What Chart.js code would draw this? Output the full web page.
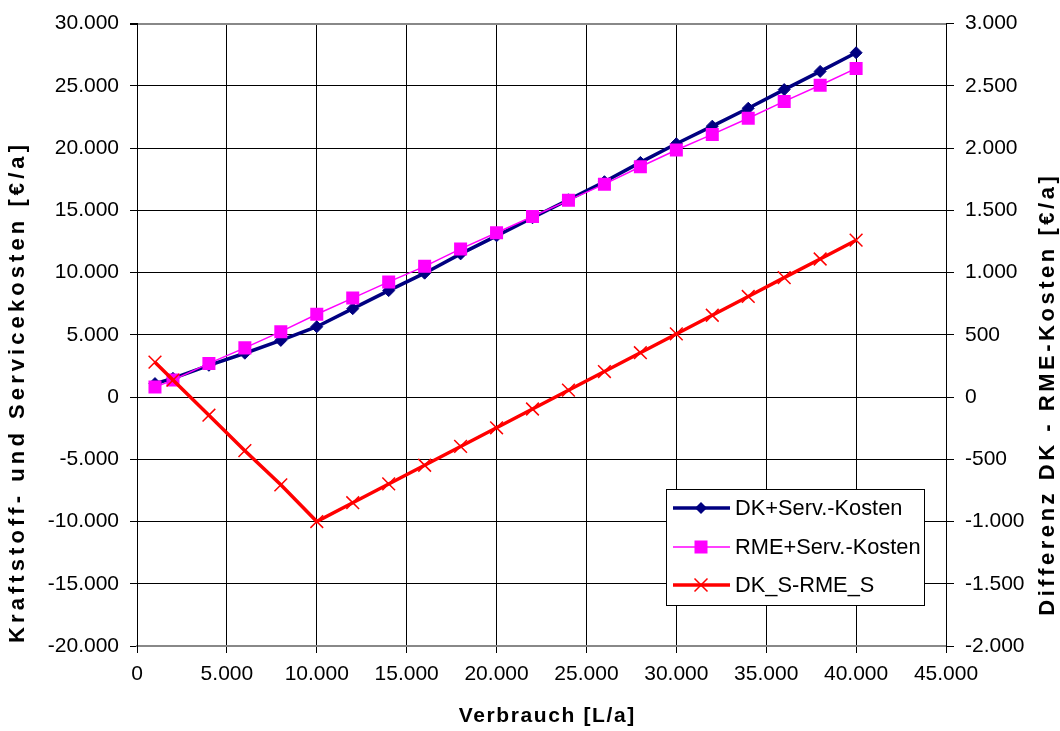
<!DOCTYPE html>
<html>
<head>
<meta charset="utf-8">
<script src="https://cdn.jsdelivr.net/npm/chart.js@4/dist/chart.umd.min.js"></script>
<style>
  html, body { margin: 0; padding: 0; background: #fff; }
  #wrap { width: 1060px; height: 731px; }
</style>
</head>
<body>
<div id="wrap"><canvas id="chart" width="1060" height="731"></canvas></div>
<script>
// Verbrauch in L/a (x values)
const verbrauch = [1000, 2000, 4000, 6000, 8000, 10000, 12000, 14000, 16000, 18000, 20000,
  22000, 24000, 26000, 28000, 30000, 32000, 34000, 36000, 38000, 40000];
// Kraftstoff- und Servicekosten, left axis (€/a)
const dkServ = [1080, 1500, 2550, 3520, 4550, 5650, 7100, 8550, 9950, 11500, 12950,
  14400, 15850, 17300, 18850, 20350, 21760, 23200, 24700, 26160, 27660];
const rmeServ = [800, 1360, 2700, 3950, 5250, 6650, 7950, 9250, 10500, 11900, 13200,
  14500, 15800, 17100, 18500, 19850, 21100, 22400, 23750, 25050, 26400];
// Differenz DK - RME, right axis (€/a)
const diffKosten = [280, 136, -146, -431, -705, -1000, -849, -698, -548, -397, -247,
  -96, 55, 205, 356, 507, 657, 808, 959, 1109, 1260];

const seriesNames = ["DK+Serv.-Kosten", "RME+Serv.-Kosten", "DK_S-RME_S"];
const xTitle = "Verbrauch [L/a]";
const yTitle = "Kraftstoff- und Servicekosten [€/a]";
const y2Title = "Differenz DK - RME-Kosten [€/a]";

const FONT = "'Liberation Sans', Arial, sans-serif";

function fmt(v) {
  const s = Math.abs(Math.round(v)).toString().replace(/\B(?=(\d{3})+(?!\d))/g, ".");
  return (v < 0 ? "-" : "") + s;
}

function toPoints(ys) {
  return verbrauch.map((x, i) => ({ x: x, y: ys[i] }));
}

// draws spaced text centered at (cx, cy), rotated by rot, stretched to fit width
function spacedText(ctx, text, cx, cy, rot, width, size) {
  ctx.save();
  ctx.font = "bold " + size + "px " + FONT;
  const plain = ctx.measureText(text).width;
  const sp = Math.max(0, (width - plain) / text.length);
  ctx.letterSpacing = sp + "px";
  ctx.translate(cx, cy);
  ctx.rotate(rot);
  ctx.fillStyle = "#000";
  ctx.textAlign = "center";
  ctx.textBaseline = "middle";
  ctx.fillText(text, sp / 2, 0);
  ctx.restore();
}

function marker(ctx, style, x, y, color) {
  ctx.save();
  ctx.fillStyle = color;
  ctx.strokeStyle = color;
  ctx.beginPath();
  if (style === "rectRot") {
    ctx.moveTo(x - 6, y); ctx.lineTo(x, y - 6); ctx.lineTo(x + 6, y); ctx.lineTo(x, y + 6);
    ctx.closePath(); ctx.fill();
  } else if (style === "rect") {
    ctx.fillRect(x - 6.5, y - 6.5, 13, 13);
  } else {
    ctx.lineWidth = 1.5;
    ctx.moveTo(x - 6.5, y - 6.5); ctx.lineTo(x + 6.5, y + 6.5);
    ctx.moveTo(x + 6.5, y - 6.5); ctx.lineTo(x - 6.5, y + 6.5);
    ctx.stroke();
  }
  ctx.restore();
}

const extras = {
  id: "extras",
  afterDraw(chart) {
    const ctx = chart.ctx;
    const a = chart.chartArea;
    spacedText(ctx, xTitle, (a.left + a.right) / 2 + 5, 716, 0, 177, 21);
    spacedText(ctx, yTitle, 18, 394, -Math.PI / 2, 502, 22);
    spacedText(ctx, y2Title, 1048, 396, -Math.PI / 2, 443, 22);

    // legend box
    const bx = 666, by = 489, bw = 258, bh = 116;
    ctx.save();
    ctx.fillStyle = "#fff";
    ctx.fillRect(bx, by, bw, bh);
    ctx.strokeStyle = "#000";
    ctx.lineWidth = 1;
    ctx.strokeRect(bx + 0.5, by + 0.5, bw, bh);
    const rows = [508, 547, 585];
    chart.data.datasets.forEach((ds, i) => {
      const y = rows[i];
      ctx.strokeStyle = ds.borderColor;
      ctx.lineWidth = ds.borderWidth;
      ctx.beginPath();
      ctx.moveTo(673, y); ctx.lineTo(730, y);
      ctx.stroke();
      marker(ctx, ds.pointStyle, 701, y, ds.borderColor);
      ctx.fillStyle = "#000";
      ctx.font = "21.8px " + FONT;
      ctx.textAlign = "left";
      ctx.textBaseline = "middle";
      ctx.fillText(ds.label, 735, y + 1);
    });
    ctx.restore();
  }
};

new Chart(document.getElementById("chart"), {
  type: "line",
  data: {
    datasets: [
      {
        label: seriesNames[0], data: toPoints(dkServ), yAxisID: "y", order: 2,
        borderColor: "#000080", backgroundColor: "#000080", borderWidth: 3.5,
        pointStyle: "rectRot", pointRadius: 6, pointBorderWidth: 1
      },
      {
        label: seriesNames[1], data: toPoints(rmeServ), yAxisID: "y", order: 1,
        borderColor: "#FF00FF", backgroundColor: "#FF00FF", borderWidth: 1.5,
        pointStyle: "rect", pointRadius: 9.2, pointBorderWidth: 0
      },
      {
        label: seriesNames[2], data: toPoints(diffKosten), yAxisID: "y2", order: 0,
        borderColor: "#FF0000", backgroundColor: "#FF0000", borderWidth: 3.5,
        pointStyle: "crossRot", pointRadius: 9, pointBorderWidth: 1.5
      }
    ]
  },
  options: {
    responsive: false,
    animation: false,
    layout: { padding: { top: 19, left: 0, right: 0, bottom: 0 } },
    plugins: { legend: { display: false }, tooltip: { enabled: false } },
    scales: {
      x: {
        type: "linear", min: 0, max: 45000,
        ticks: { stepSize: 5000, color: "#000", font: { family: FONT, size: 21 }, padding: 9,
          maxRotation: 0, callback: v => fmt(v) },
        grid: { color: "#000", lineWidth: 1, tickLength: 7, tickColor: "#000" },
        border: { color: "#888", width: 2 },
        afterFit: s => { s.height = 85; }
      },
      y: {
        position: "left", min: -20000, max: 30000,
        ticks: { stepSize: 5000, color: "#000", font: { family: FONT, size: 21 }, padding: 11,
          callback: v => fmt(v) },
        grid: {
          color: c => (c.tick && c.tick.value === 30000 ? "#888" : "#000"),
          lineWidth: c => (c.tick && c.tick.value === 30000 ? 2 : 1),
          tickLength: 7, tickColor: "#000"
        },
        border: { color: "#000", width: 1 },
        afterFit: s => { s.width = 137; }
      },
      y2: {
        position: "right", min: -2000, max: 3000,
        ticks: { stepSize: 500, color: "#000", font: { family: FONT, size: 21 }, padding: 11,
          callback: v => fmt(v) },
        grid: { drawOnChartArea: false, tickLength: 8, tickColor: "#000" },
        border: { color: "#000", width: 1 },
        afterFit: s => { s.width = 114; }
      }
    }
  },
  plugins: [extras]
});
</script>
</body>
</html>
